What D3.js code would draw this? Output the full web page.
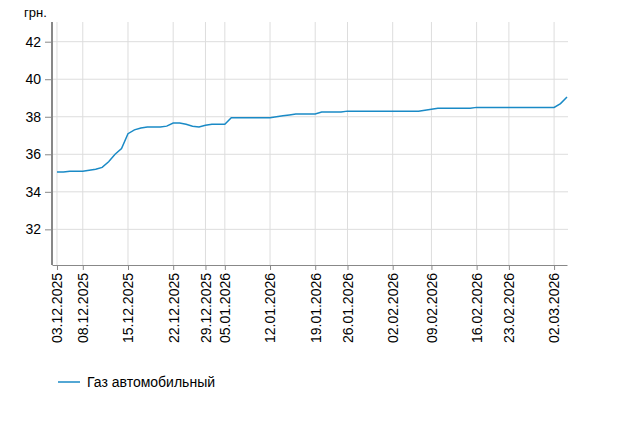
<!DOCTYPE html>
<html><head><meta charset="utf-8">
<script src="https://cdn.jsdelivr.net/npm/d3@7"></script>
<style>
body{margin:0;background:#fff;font-family:"Liberation Sans",Arial,sans-serif;}
.grid line{stroke:#ddd;}
</style></head>
<body><div id="chart"></div>
<script>
// observation dates (not every calendar day) and prices
var dates = ["03.12.2025","04.12.2025","05.12.2025","06.12.2025","08.12.2025",
  "09.12.2025","10.12.2025","11.12.2025","12.12.2025","13.12.2025","14.12.2025","15.12.2025",
  "16.12.2025","17.12.2025","18.12.2025","19.12.2025","20.12.2025","21.12.2025","22.12.2025",
  "23.12.2025","24.12.2025","26.12.2025","27.12.2025","29.12.2025",
  "30.12.2025","02.01.2026","05.01.2026",
  "06.01.2026","07.01.2026","08.01.2026","09.01.2026","10.01.2026","11.01.2026","12.01.2026",
  "13.01.2026","14.01.2026","15.01.2026","16.01.2026","17.01.2026","18.01.2026","19.01.2026",
  "20.01.2026","21.01.2026","22.01.2026","24.01.2026","26.01.2026",
  "27.01.2026","28.01.2026","29.01.2026","30.01.2026","31.01.2026","01.02.2026","02.02.2026",
  "03.02.2026","04.02.2026","05.02.2026","06.02.2026","07.02.2026","09.02.2026",
  "10.02.2026","11.02.2026","12.02.2026","13.02.2026","14.02.2026","15.02.2026","16.02.2026",
  "17.02.2026","18.02.2026","19.02.2026","20.02.2026","23.02.2026",
  "24.02.2026","25.02.2026","26.02.2026","27.02.2026","28.02.2026","01.03.2026","02.03.2026",
  "03.03.2026","04.03.2026"];
var prices = [35.05,35.05,35.1,35.1,35.1,
  35.15,35.2,35.3,35.6,36.0,36.3,37.1,
  37.3,37.4,37.45,37.45,37.45,37.5,37.67,
  37.67,37.6,37.5,37.45,37.55,
  37.6,37.6,37.6,
  37.95,37.95,37.95,37.95,37.95,37.95,37.95,
  38.0,38.05,38.1,38.15,38.15,38.15,38.15,
  38.25,38.25,38.25,38.25,38.3,
  38.3,38.3,38.3,38.3,38.3,38.3,38.3,
  38.3,38.3,38.3,38.3,38.35,38.4,
  38.45,38.45,38.45,38.45,38.45,38.45,38.5,
  38.5,38.5,38.5,38.5,38.5,
  38.5,38.5,38.5,38.5,38.5,38.5,38.5,
  38.7,39.05];
var tickLabels = ["03.12.2025","08.12.2025","15.12.2025","22.12.2025","29.12.2025","05.01.2026","12.01.2026","19.01.2026","26.01.2026","02.02.2026","09.02.2026","16.02.2026","23.02.2026","02.03.2026"];
var yTicks = [32,34,36,38,40,42];
var seriesName = "Газ автомобильный";

var data = prices.map((v, i) => ({i: i, date: dates[i], value: v}));

var svg = d3.select("#chart").append("svg").attr("width", 618).attr("height", 424);
var pLeft = 52, pRight = 568, pTop = 22, pBottom = 265;

// points are evenly spaced, so x runs over the index
var x = d3.scaleLinear().domain([-0.77, dates.length - 1]).range([pLeft, pRight - 1]);
var y = d3.scaleLinear().domain([30.1, 43.05]).range([pBottom, pTop]);
var tickIdx = tickLabels.map(t => dates.indexOf(t));

// grid
svg.append("g").attr("class", "grid").selectAll("line").data(yTicks).enter().append("line")
    .attr("x1", pLeft).attr("x2", pRight).attr("y1", d => y(d)).attr("y2", d => y(d));
svg.append("g").attr("class", "grid").selectAll("line").data(tickIdx).enter().append("line")
    .attr("x1", d => x(d)).attr("x2", d => x(d)).attr("y1", pTop).attr("y2", pBottom);

// y axis
var ya = svg.append("g").attr("transform", `translate(${pLeft},0)`)
    .call(d3.axisLeft(y).tickValues(yTicks).tickSize(7).tickPadding(4));
ya.select(".domain").attr("stroke", "#888").attr("stroke-width", 2).attr("d", `M0,${pTop}V${pBottom}`);
ya.selectAll(".tick line").attr("stroke", "#888");
ya.selectAll("text").attr("font-size", 14).attr("fill", "#000").attr("font-family", "Liberation Sans, Arial");

// x axis
var xa = svg.append("g").attr("transform", `translate(0,${pBottom})`)
    .call(d3.axisBottom(x).tickValues(tickIdx).tickFormat(i => dates[i]).tickSize(5).tickSizeOuter(0));
xa.select(".domain").attr("stroke", "#888");
xa.selectAll(".tick line").attr("stroke", "#888");
xa.selectAll("text").attr("font-size", 14).attr("fill", "#000").attr("font-family", "Liberation Sans, Arial")
    .attr("transform", "rotate(-90)").attr("text-anchor", "end").attr("x", -8).attr("y", 0).attr("dy", "0.35em");

svg.append("text").attr("x", 24).attr("y", 17).attr("font-size", 13).text("грн.");

// line
svg.append("path").datum(data)
    .attr("fill", "none").attr("stroke", "#1a8ac6").attr("stroke-width", 1.5)
    .attr("d", d3.line().x(d => x(d.i)).y(d => y(d.value)));

// legend
svg.append("line").attr("x1", 58).attr("x2", 80).attr("y1", 382).attr("y2", 382)
    .attr("stroke", "#1a8ac6").attr("stroke-width", 1.5);
svg.append("text").attr("x", 87).attr("y", 387).attr("font-size", 14).text(seriesName);
</script></body></html>
